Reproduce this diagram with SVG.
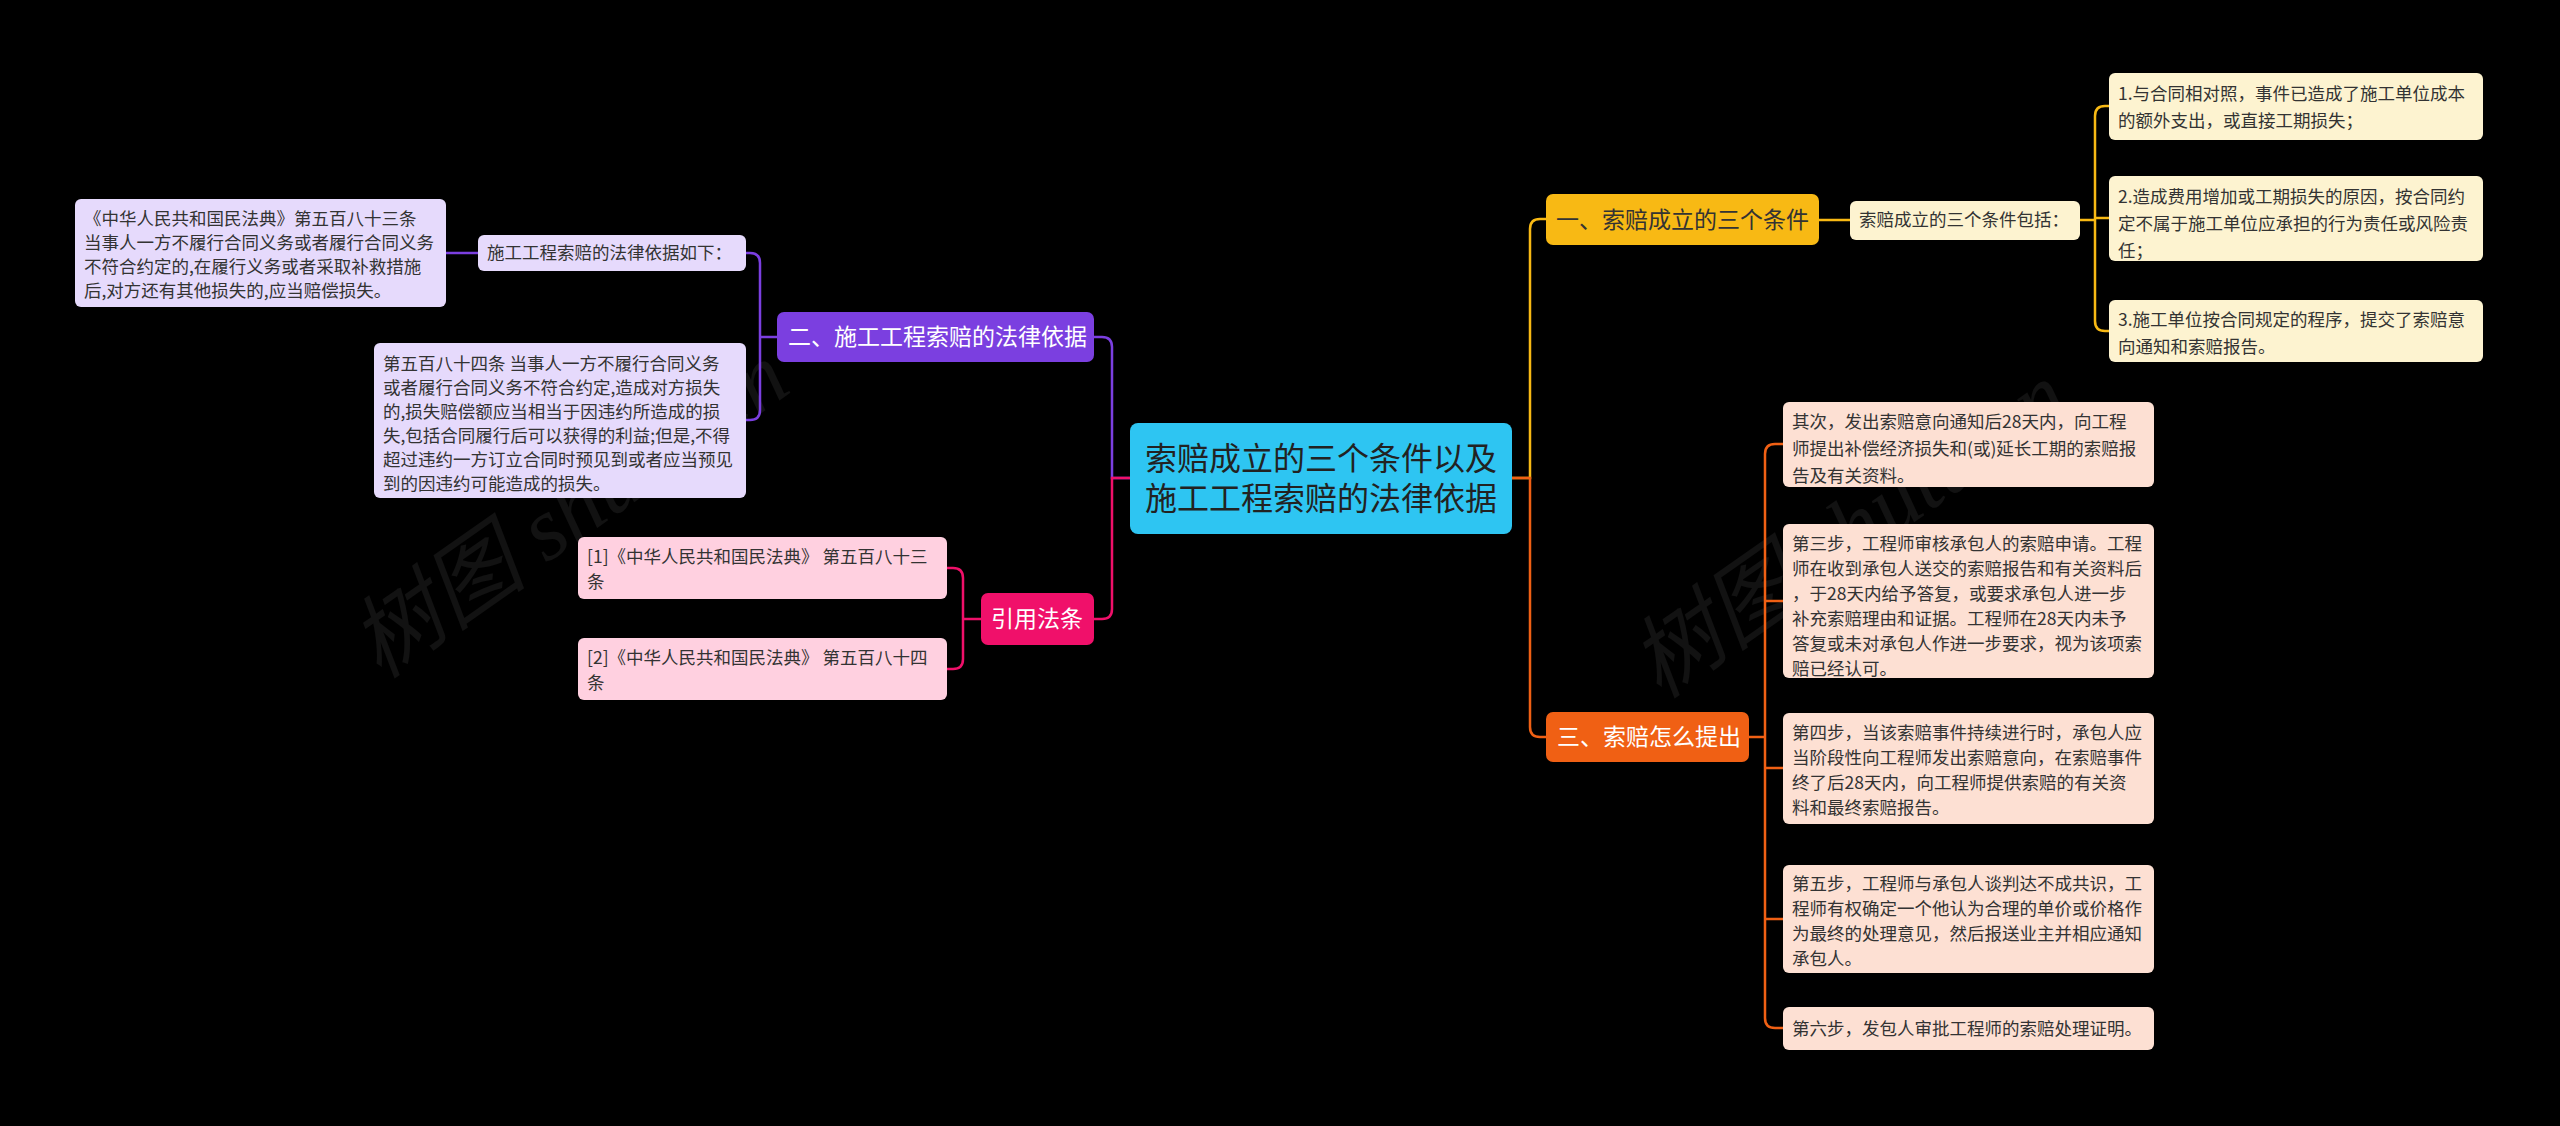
<svg xmlns="http://www.w3.org/2000/svg" width="2560" height="1126" viewBox="0 0 2560 1126">
<style>
text{font-family:"Noto Sans CJK SC","Liberation Sans",sans-serif}
.lf{font-size:17.5px;fill:#333}
.br{font-size:23px}
.c{fill:none;stroke-width:2.5}
.wm{font-size:90px;fill:#fff;fill-opacity:0.07;font-family:"Liberation Serif","Noto Sans CJK SC",serif;font-style:italic}
</style>
<rect width="2560" height="1126" fill="#000"/>
<text class="wm" transform="translate(380,680) rotate(-35)">树图 shutu.cn</text>
<text class="wm" transform="translate(1660,700) rotate(-35)">树图 shutu.cn</text>
<g id="connectors">
<path class="c" stroke="#f8b914" d="M1512 478 H1530 V229 Q1530 219 1540 219 H1546"/>
<path class="c" stroke="#f06014" d="M1512 478 H1530 V727 Q1530 737 1540 737 H1546"/>
<path class="c" stroke="#7b3fe0" d="M1130 478 H1112 V347 Q1112 337 1102 337 H1094"/>
<path class="c" stroke="#f0106a" d="M1130 478 H1112 V609 Q1112 619 1102 619 H1094"/>
<path class="c" stroke="#f8b914" d="M1819 220 H1850"/>
<path class="c" stroke="#f8b914" d="M2080 220 H2095 M2109 106 H2105 Q2095 106 2095 116 V321 Q2095 331 2105 331 H2109 M2095 218 H2109"/>
<path class="c" stroke="#f06014" d="M1749 737 H1765 M1783 444 H1775 Q1765 444 1765 454 V1018 Q1765 1028 1775 1028 H1783 M1765 601 H1783 M1765 768 H1783 M1765 919 H1783"/>
<path class="c" stroke="#7b3fe0" d="M777 337 H760 M746 253 H750 Q760 253 760 263 V410 Q760 420 750 420 H746"/>
<path class="c" stroke="#7b3fe0" d="M478 253 H446"/>
<path class="c" stroke="#f0106a" d="M981 619 H963 M947 568 H953 Q963 568 963 578 V659 Q963 669 953 669 H947"/>
</g>
<g id="root"><rect x="1130" y="423" width="382" height="111" rx="8" fill="#2ec5f2"/>
<text x="1321" y="470" font-size="32" fill="#222" text-anchor="middle">索赔成立的三个条件以及</text>
<text x="1321" y="510" font-size="32" fill="#222" text-anchor="middle">施工工程索赔的法律依据</text></g>
<g id="b1"><rect x="1546" y="194" width="273" height="51" rx="7" fill="#f8b914"/>
<text class="br" x="1556" y="228" fill="#333">一、索赔成立的三个条件</text></g>
<g id="b1s"><rect x="1850" y="201" width="230" height="39" rx="6" fill="#fdf3d0"/>
<text class="lf" x="1859" y="226">索赔成立的三个条件包括：</text></g>
<g id="b1a"><rect x="2109" y="73" width="374" height="67" rx="6" fill="#fdf3d0"/>
<text class="lf" x="2118" y="100">1.与合同相对照，事件已造成了施工单位成本<tspan x="2118" dy="27">的额外支出，或直接工期损失；</tspan></text></g>
<g id="b1b"><rect x="2109" y="176" width="374" height="85" rx="6" fill="#fdf3d0"/>
<text class="lf" x="2118" y="203">2.造成费用增加或工期损失的原因，按合同约<tspan x="2118" dy="27">定不属于施工单位应承担的行为责任或风险责</tspan><tspan x="2118" dy="27">任；</tspan></text></g>
<g id="b1c"><rect x="2109" y="300" width="374" height="62" rx="6" fill="#fdf3d0"/>
<text class="lf" x="2118" y="326">3.施工单位按合同规定的程序，提交了索赔意<tspan x="2118" dy="27">向通知和索赔报告。</tspan></text></g>
<g id="b3"><rect x="1546" y="712" width="203" height="50" rx="7" fill="#f06014"/>
<text class="br" x="1557" y="745" fill="#fff">三、索赔怎么提出</text></g>
<g id="b3a"><rect x="1783" y="402" width="371" height="85" rx="6" fill="#fde0d3"/>
<text class="lf" x="1792" y="428">其次，发出索赔意向通知后28天内，向工程<tspan x="1792" dy="27">师提出补偿经济损失和(或)延长工期的索赔报</tspan><tspan x="1792" dy="27">告及有关资料。</tspan></text></g>
<g id="b3b"><rect x="1783" y="524" width="371" height="154" rx="6" fill="#fde0d3"/>
<text class="lf" x="1792" y="550">第三步，工程师审核承包人的索赔申请。工程<tspan x="1792" dy="25">师在收到承包人送交的索赔报告和有关资料后</tspan><tspan x="1792" dy="25">，于28天内给予答复，或要求承包人进一步</tspan><tspan x="1792" dy="25">补充索赔理由和证据。工程师在28天内未予</tspan><tspan x="1792" dy="25">答复或未对承包人作进一步要求，视为该项索</tspan><tspan x="1792" dy="25">赔已经认可。</tspan></text></g>
<g id="b3c"><rect x="1783" y="713" width="371" height="111" rx="6" fill="#fde0d3"/>
<text class="lf" x="1792" y="739">第四步，当该索赔事件持续进行时，承包人应<tspan x="1792" dy="25">当阶段性向工程师发出索赔意向，在索赔事件</tspan><tspan x="1792" dy="25">终了后28天内，向工程师提供索赔的有关资</tspan><tspan x="1792" dy="25">料和最终索赔报告。</tspan></text></g>
<g id="b3d"><rect x="1783" y="865" width="371" height="108" rx="6" fill="#fde0d3"/>
<text class="lf" x="1792" y="890">第五步，工程师与承包人谈判达不成共识，工<tspan x="1792" dy="25">程师有权确定一个他认为合理的单价或价格作</tspan><tspan x="1792" dy="25">为最终的处理意见，然后报送业主并相应通知</tspan><tspan x="1792" dy="25">承包人。</tspan></text></g>
<g id="b3e"><rect x="1783" y="1007" width="371" height="43" rx="6" fill="#fde0d3"/>
<text class="lf" x="1792" y="1035">第六步，发包人审批工程师的索赔处理证明。</text></g>
<g id="b2"><rect x="777" y="312" width="317" height="50" rx="7" fill="#7b3fe0"/>
<text class="br" x="788" y="345" fill="#fff">二、施工工程索赔的法律依据</text></g>
<g id="b2s"><rect x="478" y="235" width="268" height="36" rx="6" fill="#e6dafc"/>
<text class="lf" x="487" y="259">施工工程索赔的法律依据如下：</text></g>
<g id="b2a"><rect x="75" y="199" width="371" height="108" rx="6" fill="#e6dafc"/>
<text class="lf" x="84" y="225">《中华人民共和国民法典》第五百八十三条<tspan x="84" dy="24">当事人一方不履行合同义务或者履行合同义务</tspan><tspan x="84" dy="24">不符合约定的,在履行义务或者采取补救措施</tspan><tspan x="84" dy="24">后,对方还有其他损失的,应当赔偿损失。</tspan></text></g>
<g id="b2b"><rect x="374" y="343" width="372" height="155" rx="6" fill="#e6dafc"/>
<text class="lf" x="383" y="370">第五百八十四条 当事人一方不履行合同义务<tspan x="383" dy="24">或者履行合同义务不符合约定,造成对方损失</tspan><tspan x="383" dy="24">的,损失赔偿额应当相当于因违约所造成的损</tspan><tspan x="383" dy="24">失,包括合同履行后可以获得的利益;但是,不得</tspan><tspan x="383" dy="24">超过违约一方订立合同时预见到或者应当预见</tspan><tspan x="383" dy="24">到的因违约可能造成的损失。</tspan></text></g>
<g id="b4"><rect x="981" y="593" width="113" height="52" rx="7" fill="#f0106a"/>
<text class="br" x="1037" y="627" fill="#fff" text-anchor="middle">引用法条</text></g>
<g id="b4a"><rect x="578" y="537" width="369" height="62" rx="6" fill="#ffd0e0"/>
<text class="lf" x="587" y="563">[1]《中华人民共和国民法典》 第五百八十三<tspan x="587" dy="25">条</tspan></text></g>
<g id="b4b"><rect x="578" y="638" width="369" height="62" rx="6" fill="#ffd0e0"/>
<text class="lf" x="587" y="664">[2]《中华人民共和国民法典》 第五百八十四<tspan x="587" dy="25">条</tspan></text></g>
</svg>
